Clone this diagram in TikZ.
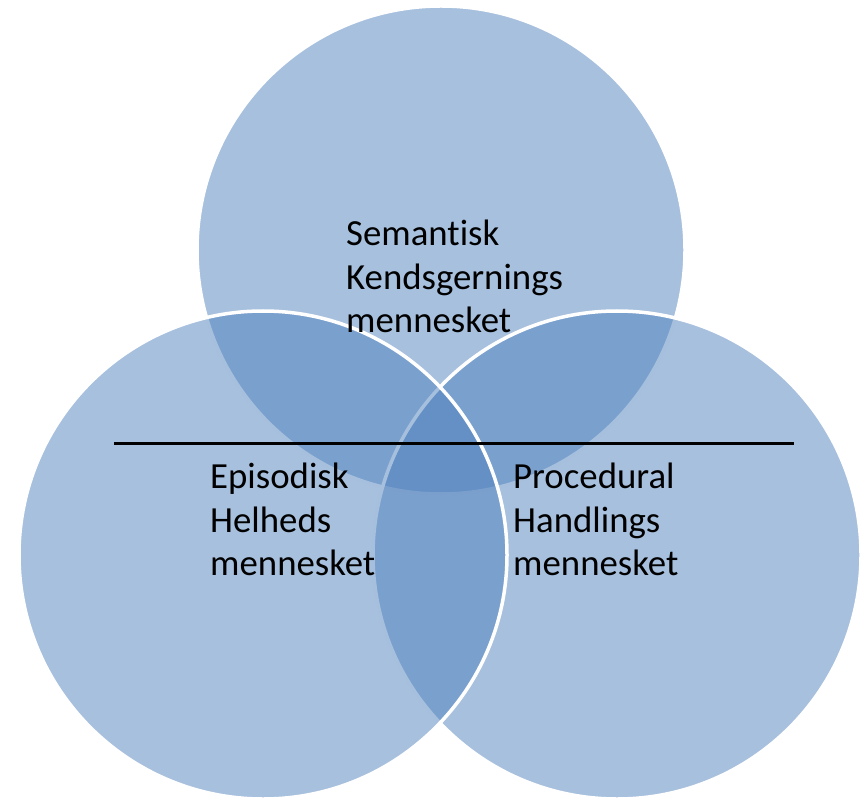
\documentclass[tikz,border=0pt]{standalone}
\usepackage{fontspec}
\setmainfont{Carlito}[Ligatures=NoCommon]
\definecolor{accentblue}{RGB}{79,129,189}
\begin{document}
\begin{tikzpicture}
  [x=1pt,y=-1pt,every node/.style={inner sep=0pt},
   memcircle/.style={circle,minimum size=488pt,fill=accentblue,fill opacity=.5,draw=white,line width=3.5pt},
   memtext/.style={anchor=north west,align=left,text=black,font=\fontsize{36.8}{43.5}\selectfont}]
  \useasboundingbox (0,0) rectangle (864,799);
  \node[memcircle] (sem) at (441,250) {};
  \node[memcircle] (proc) at (617,555) {};
  \node[memcircle] (epi) at (263,555) {};
  \coordinate (l1) at (114,443.5);
  \coordinate (l2) at (794,443.5);
 \path[-,draw,line width=2.2pt]
    (l1) edge (l2)
    ;
  \node[memtext] (semtxt) at (346,220) {Semantisk\\Kendsgernings\\mennesket};
  \node[memtext] (epitxt) at (210,463) {Episodisk\\Helheds\\mennesket};
  \node[memtext] (proctxt) at (513,463) {Procedural\\Handlings\\mennesket};

\end{tikzpicture}
\end{document}
